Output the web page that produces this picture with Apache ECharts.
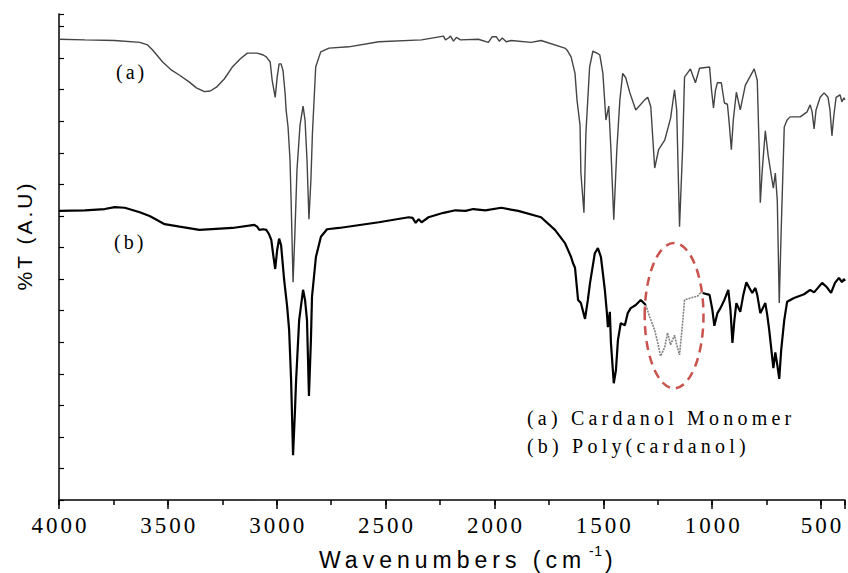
<!DOCTYPE html>
<html><head><meta charset="utf-8">
<script src="https://cdn.jsdelivr.net/npm/echarts@6/dist/echarts.min.js"></script>
<style>html,body{margin:0;padding:0;background:#fff}#chart{width:848px;height:573px}</style>
</head><body><div id="chart"></div>
<script>
// Curve (a) Cardanol Monomer: wavenumber (cm-1) and %T (arbitrary units)
const waveA = [
 4000,3881,3744,3629,3593,3570,3524,3483,3446,3401,
 3369,3332,3305,3277,3241,3204,3167,3135,3090,3062,
 3048,3030,3021,3007,2998,2989,2980,2971,2961,2957,
 2948,2939,2934,2925,2916,2907,2893,2879,2870,2861,
 2852,2843,2836,2821,2798,2760,2669,2531,2335,2234,
 2225,2211,2202,2188,2175,2156,2074,2028,2010,1992,
 1978,1964,1946,1923,1831,1786,1677,1667,1648,1630,
 1621,1607,1603,1589,1580,1563,1548,1529,1516,1502,
 1488,1475,1465,1452,1438,1424,1411,1397,1378,1351,
 1310,1296,1282,1264,1246,1218,1191,1173,1163,1150,
 1136,1127,1100,1077,1058,1012,1003,994,985,976,
 958,944,930,921,912,903,889,871,848,807,
 793,784,779,770,756,743,729,719,710,701,
 692,683,669,656,642,596,564,550,541,532,
 523,504,486,468,459,450,441,431,413,404,
 395,390];
const transA = [
 73.0,72.9,72.8,72.5,72.1,71.3,69.4,68.1,67.3,66.2,
 65.3,64.7,64.8,65.4,66.7,68.6,69.9,70.8,70.8,70.5,
 70.2,69.4,66.5,63.8,67.0,69.1,69.1,68.0,64.2,61.8,
 59.1,53.9,47.5,34.5,42.8,52.3,59.4,62.4,60.2,53.9,
 44.5,50.7,58.1,68.6,71.0,71.6,71.8,72.6,72.9,73.5,
 72.9,73.2,73.5,72.7,73.3,72.9,73.0,72.5,73.4,73.4,
 72.7,73.2,72.6,72.8,72.5,72.8,71.6,71.3,70.2,67.6,
 63.4,59.4,51.8,45.5,58.1,68.6,71.1,70.8,70.5,67.6,
 60.2,62.4,55.5,44.4,55.5,63.4,67.6,66.9,64.5,61.8,
 63.4,63.8,62.3,52.6,55.5,57.0,60.5,65.0,61.8,43.3,
 55.5,67.0,68.3,66.1,68.4,68.6,64.9,62.1,64.9,66.1,
 66.1,62.9,62.7,59.4,55.5,60.2,64.6,61.8,65.7,68.3,
 66.5,55.5,47.1,52.3,58.5,54.6,51.5,49.4,51.8,47.5,
 31.2,42.8,59.1,60.2,60.7,60.7,61.5,62.6,61.5,58.8,
 61.8,63.8,64.5,63.8,61.8,57.7,61.0,63.8,64.2,63.1,
 63.7,63.4];

// Curve (b) Poly(cardanol)
const waveB = [
 4000,3881,3790,3744,3698,3629,3584,3552,3515,3446,
 3355,3204,3103,3090,3080,3062,3048,3035,3025,3016,
 3007,2998,2989,2980,2966,2952,2943,2934,2925,2916,
 2911,2897,2879,2870,2861,2852,2843,2838,2820,2797,
 2769,2714,2531,2394,2376,2362,2348,2335,2303,2234,
 2179,2133,2097,2042,1969,1891,1786,1722,1676,1648,
 1639,1630,1616,1603,1584,1571,1561,1539,1525,1511,
 1493,1484,1479,1475,1470,1465,1452,1442,1433,1420,
 1401,1388,1374,1351,1328,1305,1287,1264,1250,1237,
 1218,1205,1191,1173,1163,1150,1136,1127,1099,1067,
 1054,1044,1012,999,990,976,962,944,926,916,
 907,898,889,871,857,843,829,816,802,793,
 779,756,747,738,719,710,701,692,683,669,
 656,624,578,550,532,495,473,454,436,418,
 404,395,390];
const transB = [
 45.8,45.9,46.1,46.4,46.3,45.6,45.0,44.4,43.7,43.3,
 42.8,43.1,43.6,43.3,42.8,42.9,42.8,42.1,41.2,38.8,
 36.6,39.6,41.4,40.4,34.9,30.6,26.9,19.0,7.1,14.3,
 19.0,28.5,33.3,31.7,28.5,16.5,25.3,32.2,38.5,41.7,
 42.9,43.1,44.0,44.8,44.7,43.9,44.5,44.0,44.8,45.5,
 45.9,45.8,46.1,45.9,46.3,45.8,44.8,42.8,40.7,38.5,
 37.5,36.8,31.7,31.2,28.7,31.7,34.4,39.1,39.9,38.5,
 33.3,29.8,27.4,28.5,29.8,24.9,18.5,20.6,25.3,28.0,
 27.7,29.6,30.4,30.9,31.7,30.9,29.0,26.9,24.9,22.8,
 24.2,26.5,24.6,26.1,24.6,23.0,28.0,31.7,32.0,32.3,
 32.8,32.8,32.5,30.1,27.6,29.6,30.4,31.7,33.3,30.1,
 24.9,28.5,31.2,29.8,32.5,34.5,33.6,32.8,33.6,32.5,
 29.6,31.2,29.3,26.9,20.9,23.4,21.4,19.2,23.8,28.5,
 31.4,32.0,32.6,33.3,32.9,34.4,33.7,32.8,34.4,35.2,
 34.5,35.0,34.7];

// highlighted (circled) band of curve (b)
const highlightRange = [1044, 1305];
const highlightCenter = [1175, 29.2];
const highlightHalf = [135, 11.5];

const xMajorStep = 500, xMinorStep = 250;
const xMin = 390, xMax = 4000;
const yMin = 0, yMax = 77, yStep = 5;

const curveLabels = ['(a)', '(b)'];
const legendLines = ['(a) Cardanol Monomer', '(b) Poly(cardanol)'];
const xTitle = ['Wavenumbers (cm', '-1', ')'];
const yTitle = '%T (A.U)';

const serif = "'Liberation Serif','Times New Roman',serif";
const sans = "'Liberation Sans',Arial,sans-serif";

const chart = echarts.init(document.getElementById('chart'), null, {renderer: 'svg'});

const inside = w => w > highlightRange[0] && w < highlightRange[1];
const inBand = w => w >= highlightRange[0] && w <= highlightRange[1];
const dataA = waveA.map((w, i) => [-w, transA[i]]);
const dataB = waveB.map((w, i) => [-w, inside(w) ? '-' : transB[i]]);
const dataHi = waveB.map((w, i) => [w, transB[i]]).filter(p => inBand(p[0])).map(p => [-p[0], p[1]]);

chart.setOption({
  animation: false,
  grid: {left: 59, right: 0, top: 14, bottom: 73},
  xAxis: [{
    type: 'value', min: -xMax, max: -xMin, interval: xMajorStep,
    axisLine: {lineStyle: {color: '#000', width: 1.5}},
    axisTick: {show: true, length: 9, lineStyle: {color: '#000', width: 1.5}},
    axisLabel: {formatter: v => (v % xMajorStep === 0 ? String(-v) : ''), fontFamily: serif, fontSize: 23, color: '#000', margin: 14},
    splitLine: {show: false}
  }, {
    type: 'value', position: 'bottom', min: -xMax, max: -xMin, interval: xMinorStep,
    axisLine: {show: false},
    axisTick: {show: true, length: 5, lineStyle: {color: '#000', width: 1.5}},
    axisLabel: {show: false}, splitLine: {show: false}
  }],
  yAxis: {
    type: 'value', position: 'left', min: yMin, max: yMax, interval: yStep,
    axisLine: {show: true, lineStyle: {color: '#000', width: 1.5}},
    axisTick: {show: true, inside: true, length: 5, lineStyle: {color: '#000', width: 1.2}},
    axisLabel: {show: false}, splitLine: {show: false}
  },
  series: [
    {name: 'b', type: 'line', data: dataB, showSymbol: false, symbol: 'none', connectNulls: false,
     lineStyle: {color: '#000', width: 2.2}},
    {name: 'b-highlight', type: 'line', data: dataHi, showSymbol: false, symbol: 'none',
     lineStyle: {color: '#808080', width: 1.6, type: [2, 1]}},
    {name: 'a', type: 'line', data: dataA, showSymbol: false, symbol: 'none',
     lineStyle: {color: '#444', width: 1.4}}
  ]
});

const c = chart.convertToPixel({xAxisIndex: 0, yAxisIndex: 0}, [-highlightCenter[0], highlightCenter[1]]);
const e = chart.convertToPixel({xAxisIndex: 0, yAxisIndex: 0}, [-(highlightCenter[0] - highlightHalf[0]), highlightCenter[1] + highlightHalf[1]]);

chart.setOption({
  graphic: [
    {type: 'ellipse', shape: {cx: c[0], cy: c[1], rx: Math.abs(e[0] - c[0]), ry: Math.abs(c[1] - e[1])},
     style: {fill: 'none', stroke: '#c9524c', lineWidth: 2.5, lineDash: [9, 6]}, z: 10},
    {type: 'text', x: 116, y: 72, style: {text: curveLabels[0], font: '20px ' + serif, fill: '#000', align: 'left', verticalAlign: 'middle'}},
    {type: 'text', x: 114, y: 242, style: {text: curveLabels[1], font: '20px ' + serif, fill: '#000', align: 'left', verticalAlign: 'middle'}},
    {type: 'text', x: 527, y: 418, style: {text: legendLines[0], font: '20px ' + serif, fill: '#000', align: 'left', verticalAlign: 'middle'}},
    {type: 'text', x: 527, y: 446, style: {text: legendLines[1], font: '20px ' + serif, fill: '#000', align: 'left', verticalAlign: 'middle'}},
    {type: 'text', x: 319, y: 560, style: {text: xTitle[0], font: '23px ' + sans, fill: '#000', align: 'left', verticalAlign: 'middle'}},
    {type: 'text', x: 589, y: 551, style: {text: xTitle[1], font: '14px ' + sans, fill: '#000', align: 'left', verticalAlign: 'middle'}},
    {type: 'text', x: 605, y: 560, style: {text: xTitle[2], font: '23px ' + sans, fill: '#000', align: 'left', verticalAlign: 'middle'}},
    {type: 'text', x: 24, y: 237, rotation: Math.PI / 2, style: {text: yTitle, font: '21px ' + sans, fill: '#000', align: 'center', verticalAlign: 'middle'}}
  ]
});

function applySpacing() {
  document.querySelectorAll('#chart svg text').forEach(t => {
    const s = t.textContent;
    let ls = null, center = false;
    if (/^\d+$/.test(s)) { ls = 3; center = true; }
    else if (s === curveLabels[0] || s === curveLabels[1]) ls = 3;
    else if (s === legendLines[0] || s === legendLines[1]) ls = 4.2;
    else if (s === xTitle[0]) ls = 5;
    else if (s === xTitle[1]) ls = 0.5;
    else if (s === yTitle) { ls = 3; center = true; }
    if (ls !== null) {
      t.setAttribute('letter-spacing', ls + 'px');
      if (center) t.setAttribute('dx', (ls / 2) + 'px');
    }
  });
}
applySpacing();
chart.on('finished', applySpacing);
</script>
</body></html>
